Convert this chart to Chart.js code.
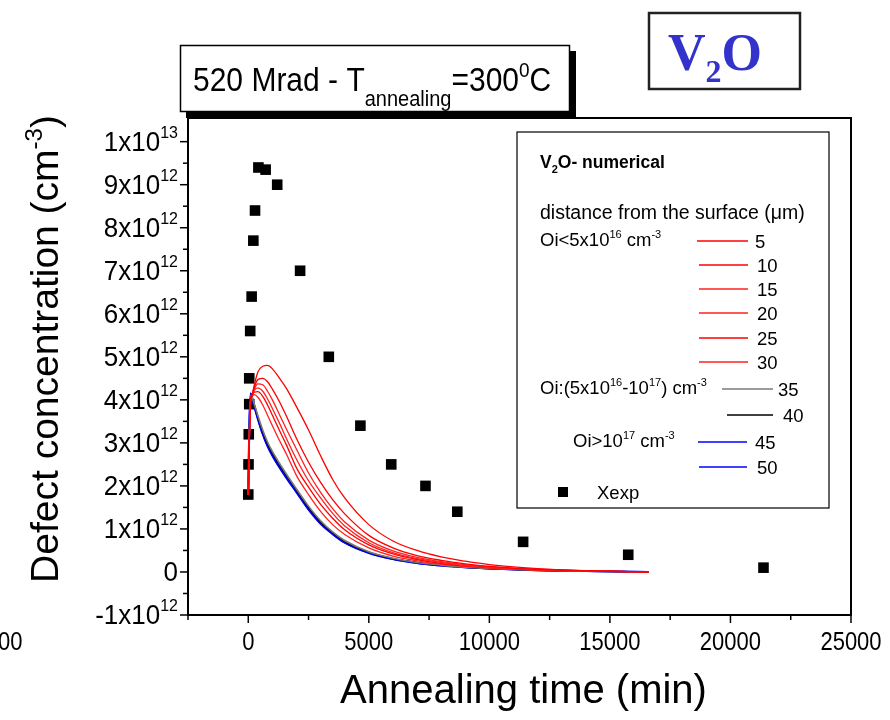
<!DOCTYPE html>
<html>
<head>
<meta charset="utf-8">
<script src="https://cdn.jsdelivr.net/npm/chart.js@4.4.1/dist/chart.umd.min.js"></script>
<style>
  html, body { margin: 0; padding: 0; background: #fff; }
</style>
</head>
<body>
<canvas id="chart" width="890" height="720"></canvas>
<script>
// time grid for the numerical curves (min)
const simTime = [0, 40, 100, 150, 250, 400, 600, 800, 1000, 1300, 1600, 2000, 2500,
                 3000, 3500, 4000, 5000, 6000, 7000, 8000, 9000, 10000, 12000, 14000, 16600];

// V2O concentration, units of 1e12 cm^-3, one array per depth (um)
const d5  = [1.8, 3.0, 4.0, 4.1, 4.35, 4.65, 4.78, 4.8, 4.72, 4.5, 4.25, 3.84, 3.3, 2.7, 2.15, 1.72, 1.1, 0.72, 0.5, 0.35, 0.25, 0.17, 0.08, 0.03, 0.0];
const d10 = [1.8, 3.0, 4.0, 4.1, 4.3, 4.47, 4.5, 4.42, 4.25, 3.95, 3.6, 3.1, 2.55, 2.08, 1.68, 1.35, 0.85, 0.56, 0.38, 0.27, 0.19, 0.13, 0.06, 0.03, 0.0];
const d15 = [1.8, 3.0, 4.0, 4.1, 4.25, 4.37, 4.35, 4.2, 4.0, 3.65, 3.3, 2.85, 2.3, 1.85, 1.47, 1.16, 0.74, 0.49, 0.34, 0.24, 0.17, 0.12, 0.06, 0.03, 0.0];
const d20 = [1.8, 3.0, 4.0, 4.1, 4.22, 4.28, 4.2, 4.02, 3.8, 3.45, 3.08, 2.62, 2.12, 1.72, 1.36, 1.07, 0.68, 0.45, 0.31, 0.22, 0.15, 0.11, 0.05, 0.02, 0.0];
const d25 = [1.8, 3.0, 4.0, 4.1, 4.18, 4.19, 4.08, 3.88, 3.64, 3.28, 2.93, 2.42, 1.97, 1.57, 1.25, 0.98, 0.63, 0.42, 0.29, 0.2, 0.14, 0.1, 0.05, 0.02, 0.0];
const d30 = [1.8, 3.0, 4.0, 4.08, 4.12, 4.06, 3.88, 3.64, 3.4, 3.05, 2.72, 2.24, 1.8, 1.41, 1.1, 0.87, 0.56, 0.37, 0.26, 0.18, 0.13, 0.09, 0.05, 0.02, 0.0];
const d35 = [1.8, 3.2, 4.1, 4.07, 3.9, 3.63, 3.3, 3.02, 2.8, 2.52, 2.26, 1.93, 1.53, 1.19, 0.93, 0.73, 0.47, 0.32, 0.22, 0.16, 0.11, 0.08, 0.04, 0.02, 0.0];
const d40 = [1.8, 3.2, 4.08, 4.05, 3.88, 3.6, 3.26, 2.98, 2.76, 2.48, 2.23, 1.9, 1.5, 1.16, 0.91, 0.71, 0.46, 0.31, 0.22, 0.16, 0.11, 0.08, 0.04, 0.02, 0.0];
const d45 = [1.8, 3.3, 4.15, 4.05, 3.86, 3.57, 3.22, 2.94, 2.72, 2.44, 2.19, 1.87, 1.47, 1.14, 0.89, 0.69, 0.45, 0.3, 0.21, 0.15, 0.11, 0.08, 0.04, 0.02, 0.0];
const d50 = [1.8, 3.3, 4.15, 4.05, 3.85, 3.55, 3.2, 2.92, 2.7, 2.42, 2.17, 1.85, 1.45, 1.12, 0.88, 0.68, 0.44, 0.3, 0.21, 0.15, 0.11, 0.08, 0.04, 0.02, 0.0];

// measured points
const expTime = [0, 10, 20, 40, 40, 80, 140, 210, 280, 420, 720, 1200, 2150, 3340, 4650, 5930, 7350, 8670, 11400, 15760, 21370];
const expConc = [1.8, 2.5, 3.2, 3.9, 4.5, 5.6, 6.4, 7.7, 8.4, 9.4, 9.35, 9.0, 7.0, 5.0, 3.4, 2.5, 2.0, 1.4, 0.7, 0.4, 0.1];

const depths = ['5', '10', '15', '20', '25', '30', '35', '40', '45', '50'];
const curves = [d5, d10, d15, d20, d25, d30, d35, d40, d45, d50];
const colors = ['#ff0000', '#ff0000', '#ff2020', '#ff2020', '#ff0000', '#ff2020', '#7a7a7a', '#000000', '#0000ff', '#0000ff'];
const widths = [1.3, 1.3, 1.3, 1.3, 1.3, 1.3, 1.6, 1.3, 2, 2];

const xTicks = [0, 5000, 10000, 15000, 20000, 25000];
const yTicks = [-1, 0, 1, 2, 3, 4, 5, 6, 7, 8, 9, 10];
const yTickLabels = ['-1x10^12', '0', '1x10^12', '2x10^12', '3x10^12', '4x10^12', '5x10^12',
                     '6x10^12', '7x10^12', '8x10^12', '9x10^12', '1x10^13'];

const SANS = '"Liberation Sans", Arial, sans-serif';
const SERIF = '"Liberation Serif", "Times New Roman", serif';

// parts: [text, size, dy, weight, family]
function rich(ctx, x, y, parts, align, sy) {
    let w = 0;
    parts.forEach(p => {
        ctx.font = (p[3] || 'normal') + ' ' + p[1] + 'px ' + (p[4] || SANS);
        w += ctx.measureText(p[0]).width;
    });
    let cx = align === 'right' ? x - w : align === 'center' ? x - w / 2 : x;
    ctx.save();
    ctx.translate(0, y);
    ctx.scale(1, sy || 1);
    ctx.textAlign = 'left';
    ctx.textBaseline = 'alphabetic';
    parts.forEach(p => {
        ctx.font = (p[3] || 'normal') + ' ' + p[1] + 'px ' + (p[4] || SANS);
        ctx.fillText(p[0], cx, p[2] || 0);
        cx += ctx.measureText(p[0]).width;
    });
    ctx.restore();
}

function supParts(label, size, supSize, rise) {
    const i = label.indexOf('^');
    if (i < 0) return [[label, size]];
    return [[label.slice(0, i), size], [label.slice(i + 1), supSize, -rise]];
}

function hline(ctx, x1, x2, y) {
    ctx.beginPath(); ctx.moveTo(x1, y); ctx.lineTo(x2, y); ctx.stroke();
}

const decor = {
    id: 'decor',
    afterDraw(chart) {
        const ctx = chart.ctx;
        const xs = chart.scales.x, ys = chart.scales.y;
        const a = chart.chartArea;
        ctx.save();
        ctx.fillStyle = '#000';
        ctx.strokeStyle = '#000';

        // frame
        ctx.lineWidth = 2;
        ctx.strokeRect(a.left, a.top, a.right - a.left, a.bottom - a.top);

        // y ticks
        ctx.lineWidth = 1.5;
        for (let v = -1; v <= 10.01; v += 0.5) {
            const py = ys.getPixelForValue(v);
            const len = Number.isInteger(v) ? 8 : 5;
            hline(ctx, a.left - len, a.left, py);
        }
        yTicks.forEach((v, i) => {
            const py = ys.getPixelForValue(v);
            rich(ctx, a.left - 10, py + 9, supParts(yTickLabels[i], 26, 16, 12), 'right', 1.05);
        });

        // x ticks
        for (let v = -2500; v <= 25000; v += 2500) {
            const px = xs.getPixelForValue(v);
            const len = v % 5000 === 0 ? 8 : 5;
            ctx.beginPath(); ctx.moveTo(px, a.bottom); ctx.lineTo(px, a.bottom + len); ctx.stroke();
        }
        xTicks.forEach(v => {
            rich(ctx, xs.getPixelForValue(v), a.bottom + 35, [[String(v), 22]], 'center', 1.15);
        });
        rich(ctx, -2, a.bottom + 35, [['00', 22]], 'left', 1.15);

        // axis titles
        rich(ctx, (a.left + a.right) / 2 + 4, 703, [['Annealing time (min)', 40]], 'center', 1);
        ctx.save();
        ctx.translate(58, 349);
        ctx.rotate(-Math.PI / 2);
        rich(ctx, 0, 0, [['Defect concentration (cm', 39], ['-3', 24, -16], [')', 39]], 'center', 1);
        ctx.restore();

        // condition box
        ctx.fillRect(186, 51, 390, 67);
        ctx.fillStyle = '#fff';
        ctx.fillRect(180, 45, 390, 67);
        ctx.lineWidth = 1.5;
        ctx.strokeRect(180.5, 45.5, 389, 66);
        ctx.fillStyle = '#000';
        rich(ctx, 193, 91, [['520 Mrad - T', 30], ['annealing', 20, 14], ['=300', 30], ['0', 19, -13], ['C', 30]], 'left', 1.1);

        // defect label box
        ctx.lineWidth = 2.5;
        ctx.strokeStyle = '#222';
        ctx.strokeRect(649, 13, 151, 76);
        ctx.fillStyle = '#3333cc';
        rich(ctx, 668, 70, [['V', 52, 0, 'bold', SERIF], ['2', 32, 12, 'bold', SERIF], ['O', 52, 0, 'bold', SERIF]], 'left', 1);

        // legend
        ctx.strokeStyle = '#000';
        ctx.lineWidth = 1.2;
        ctx.strokeRect(517, 132, 312, 376);
        ctx.fillStyle = '#000';
        rich(ctx, 540, 168, [['V', 17.5, 0, 'bold'], ['2', 11, 5, 'bold'], ['O- numerical', 17.5, 0, 'bold']], 'left', 1);
        rich(ctx, 540, 219, [['distance from the surface (\u03bcm)', 19.5]], 'left', 1);
        rich(ctx, 540, 246, [['Oi<5x10', 18.5], ['16', 11, -8], [' cm', 18.5], ['-3', 11, -8]], 'left', 1);
        rich(ctx, 540, 394, [['Oi:(5x10', 18.5], ['16', 11, -8], ['-10', 18.5], ['17', 11, -8], [') cm', 18.5], ['-3', 11, -8]], 'left', 1);
        rich(ctx, 573, 447, [['Oi>10', 18.5], ['17', 11, -8], [' cm', 18.5], ['-3', 11, -8]], 'left', 1);

        const legY = [241, 265, 289, 313, 338, 362, 389, 415, 442, 467];
        const legX1 = [697, 699, 699, 699, 699, 699, 722, 727, 698, 699];
        const legX2 = [748, 748, 748, 748, 748, 748, 773, 773, 747, 747];
        const labX = [755, 757, 757, 757, 757, 757, 778, 783, 755, 757];
        legY.forEach((y, i) => {
            ctx.strokeStyle = colors[i];
            ctx.lineWidth = i === 6 ? 1.6 : 1.4;
            hline(ctx, legX1[i], legX2[i], y);
            rich(ctx, labX[i], y + 7, [[depths[i], 18.5]], 'left', 1);
        });
        ctx.fillRect(558, 487, 10, 10);
        rich(ctx, 597, 499, [['Xexp', 18.5]], 'left', 1);

        ctx.restore();
    }
};

const datasets = curves.map((vals, i) => ({
    label: depths[i],
    data: simTime.map((t, k) => ({ x: t, y: vals[k] })),
    borderColor: colors[i],
    borderWidth: widths[i],
    pointRadius: 0,
    showLine: true,
    fill: false,
    cubicInterpolationMode: 'monotone'
}));
datasets.push({
    label: 'Xexp',
    data: expTime.map((t, k) => ({ x: t, y: expConc[k] })),
    showLine: false,
    pointStyle: 'rect',
    pointRadius: 7.5,
    backgroundColor: '#000',
    borderColor: '#000',
    borderWidth: 0
});

new Chart(document.getElementById('chart').getContext('2d'), {
    type: 'scatter',
    data: { datasets: datasets },
    options: {
        responsive: false,
        animation: false,
        events: [],
        layout: { padding: { left: 188, right: 39, top: 118, bottom: 105 } },
        plugins: { legend: { display: false }, tooltip: { enabled: false } },
        scales: {
            x: { type: 'linear', min: -2500, max: 25000, display: false },
            y: { type: 'linear', min: -1, max: 10.55, display: false }
        }
    },
    plugins: [decor]
});
</script>
</body>
</html>
